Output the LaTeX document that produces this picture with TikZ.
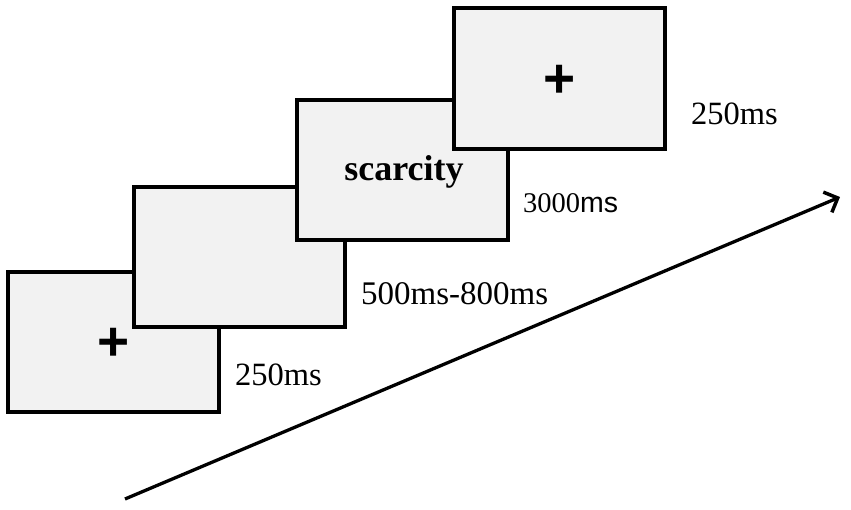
\documentclass[tikz,border=0pt]{standalone}
\usepackage{fontspec}
\setmainfont{Liberation Serif}
\newfontfamily\lsans{Liberation Sans}
\usetikzlibrary{arrows.meta}
\definecolor{boxgray}{HTML}{F2F2F2}
\begin{document}
\begin{tikzpicture}[x=1pt,y=-1pt,
  screen/.style={draw=black,fill=boxgray,line width=4.5pt},
  lbl/.style={anchor=base west,inner sep=0pt,font=\fontsize{32.5}{36}\selectfont},
  cross/.style={inner sep=0pt,font=\lsans\bfseries\fontsize{55}{60}\selectfont}]
\useasboundingbox (0,0) rectangle (851,509);
\draw[screen] (8,272) rectangle (219,412);
\draw[screen] (134,187) rectangle (345,327);
\draw[screen] (297,100) rectangle (508,240);
\draw[screen] (454,8) rectangle (665,149);
\node[cross] (c1) at (114,344) {+};
\node[cross] (c4) at (560,81) {+};
\node[inner sep=0pt,font=\bfseries\fontsize{36}{40}\selectfont] (w) at (404,172) {scarcity};
\node[lbl] (t1) at (235,385) {250ms};
\node[lbl,font=\fontsize{33}{36}\selectfont] (t2) at (361,304) {500ms-800ms};
\node[lbl,font=\fontsize{28.5}{32}\selectfont] (t3) at (523,212) {3000{\lsans ms}};
\node[lbl] (t4) at (691,124) {250ms};
\coordinate (as) at (125,499);
\coordinate (ae) at (840,197);
\draw[line width=3.3pt,-{Straight Barb[length=11pt,width=22pt,line width=3.5pt]}] (as) -- (ae);
\end{tikzpicture}
\end{document}
